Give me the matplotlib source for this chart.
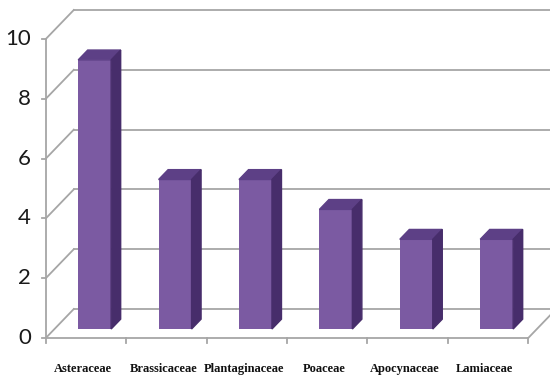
import numpy as np
import matplotlib.pyplot as plt
from matplotlib.patches import Polygon

# Data
families = ["Asteraceae", "Brassicaceae", "Plantaginaceae", "Poaceae", "Apocynaceae", "Lamiaceae"]
counts = [9, 5, 5, 4, 3, 3]
yticks = [0, 2, 4, 6, 8, 10]

# Fake 3D geometry (data units)
DX, DY = 0.348, 0.97     # depth offset from front plane to back wall
d0, d1 = 0.31, 0.65      # bar front / back depth fractions
bar_w = 0.41
grid_col = "#a6a6a6"
front_col, top_col, side_col = "#7b5aa2", "#5d4086", "#472d6b"

fig = plt.figure(figsize=(5.5, 3.77), dpi=100)
ax = fig.add_axes([0, 0, 1, 1])
ax.axis("off")
ax.set_xlim(-1.0697, 5.771)
ax.set_ylim(-1.304, 11.304)

n = len(families)
x0, x1 = -0.5, n - 0.5

# Back wall gridlines and left wall diagonals
for v in yticks:
    ax.plot([x0 + DX, 7], [v + DY, v + DY], color=grid_col, lw=1.3, zorder=1)
    ax.plot([x0, x0 + DX], [v, v + DY], color=grid_col, lw=1.3, zorder=1)
    ax.plot([x0 - 0.05, x0], [v, v], color=grid_col, lw=1.3, zorder=1)
    ax.text(-0.684, v, str(v), ha="right", va="center", fontsize=16,
            family="Lato", color="#1a1a1a")

# Floor edges
ax.plot([x0, x1], [0, 0], color=grid_col, lw=1.3, zorder=1)
ax.plot([x1, x1 + DX], [0, DY], color=grid_col, lw=1.3, zorder=1)
ax.plot([x0, x0], [0, yticks[-1]], color=grid_col, lw=1.3, zorder=1)
for b in np.arange(n + 1) - 0.5:
    ax.plot([b, b], [0, -0.17], color=grid_col, lw=1.3, zorder=1)

# Bars
for i, v in enumerate(counts):
    xl = i - bar_w / 2 + DX * d0
    xr = i + bar_w / 2 + DX * d0
    yb = DY * d0
    yt = v + DY * d0
    ox, oy = DX * (d1 - d0), DY * (d1 - d0)
    ax.bar(xl, v, width=bar_w, bottom=yb, align="edge", color=front_col, zorder=3)
    ax.add_patch(Polygon([(xl, yt), (xr, yt), (xr + ox, yt + oy), (xl + ox, yt + oy)],
                         closed=True, color=top_col, zorder=3))
    ax.add_patch(Polygon([(xr, yb), (xr + ox, yb + oy), (xr + ox, yt + oy), (xr, yt)],
                         closed=True, color=side_col, zorder=3))
    ax.text(i - 0.04, -1.037, families[i], ha="center", va="center", fontsize=9,
            fontweight="bold", family="Liberation Serif", color="#111111")

fig.savefig("out.png", dpi=100)
